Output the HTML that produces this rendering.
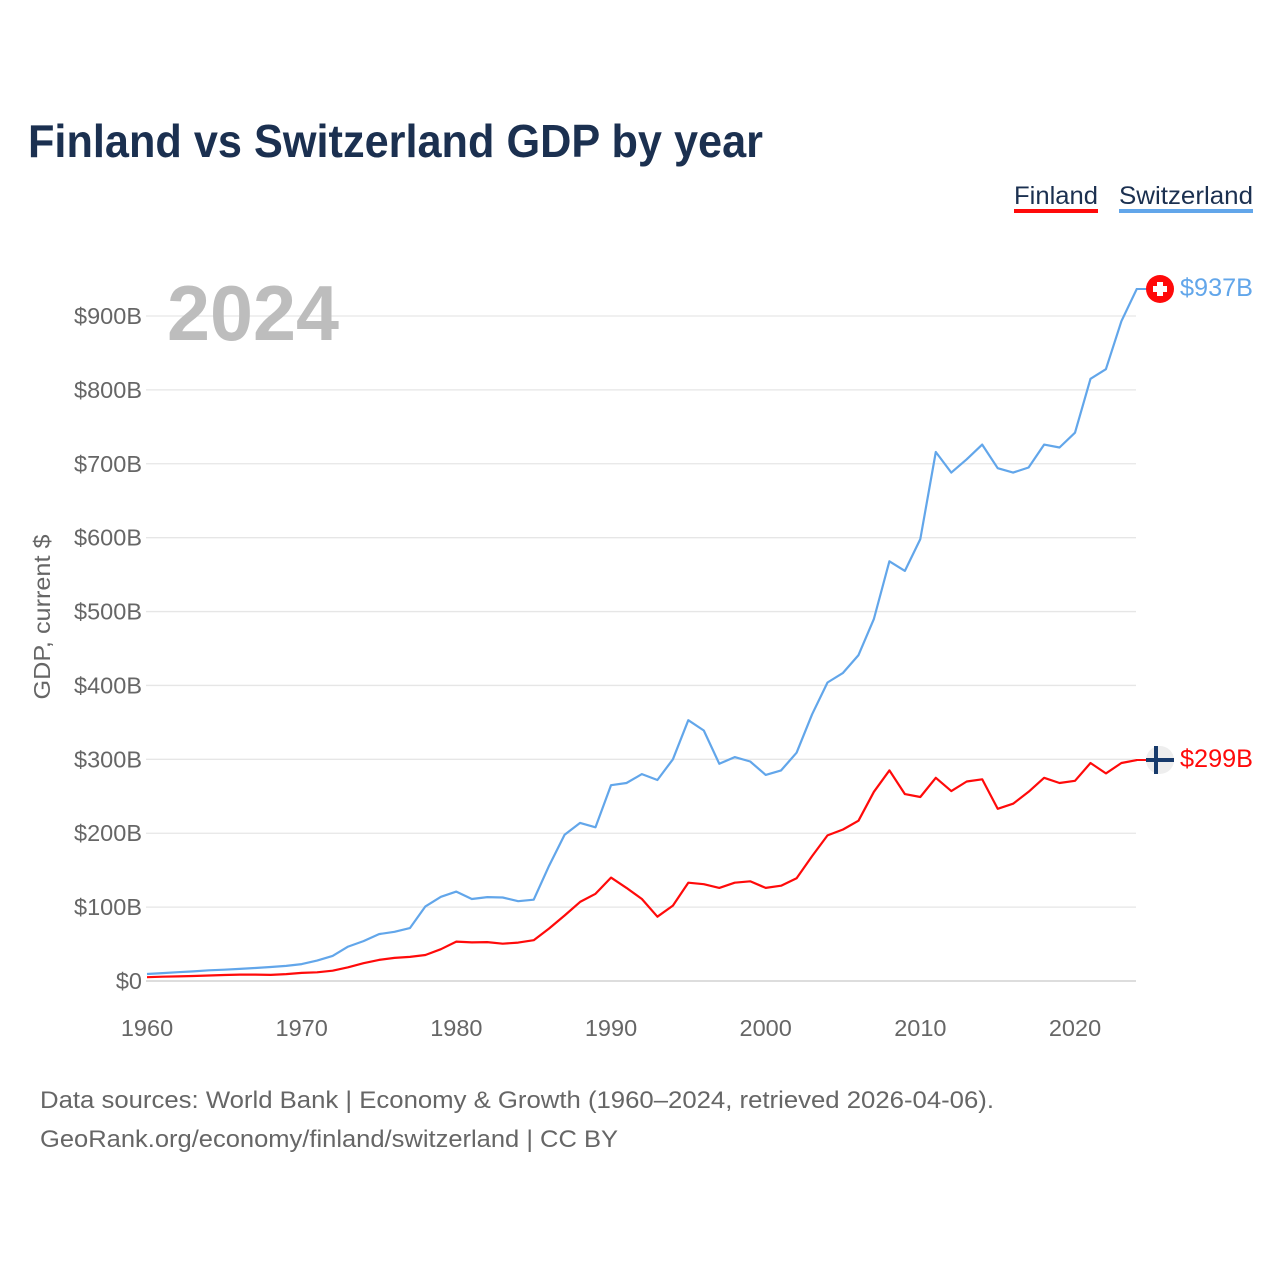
<!DOCTYPE html>
<html><head><meta charset="utf-8"><style>
html,body{margin:0;padding:0;background:#fff;}
svg{display:block;font-family:"Liberation Sans",sans-serif;}
</style></head><body>
<svg id="chart" width="1280" height="1280" viewBox="0 0 1280 1280" xmlns="http://www.w3.org/2000/svg">
<text x="28" y="157" font-size="46" font-weight="bold" fill="#1b3050" textLength="735" lengthAdjust="spacingAndGlyphs">Finland vs Switzerland GDP by year</text>
<g>
<g>
<text x="1014" y="204" font-size="25" fill="#1b3050" textLength="84" lengthAdjust="spacingAndGlyphs">Finland</text>
<rect x="1014" y="209" width="84" height="4" fill="#ff0a0a"/></g>
<g>
<text x="1119" y="204" font-size="25" fill="#1b3050" textLength="134" lengthAdjust="spacingAndGlyphs">Switzerland</text>
<rect x="1119" y="209" width="134" height="4" fill="#62a6ea"/></g>
</g>
<g id="grid"></g>
<text x="167" y="340" font-size="78" font-weight="bold" fill="#bdbdbd" textLength="172" lengthAdjust="spacingAndGlyphs">2024</text>
<text transform="translate(50,617) rotate(-90)" text-anchor="middle" font-size="23" fill="#666" textLength="165" lengthAdjust="spacingAndGlyphs">GDP, current $</text>
<g id="xticks"></g>
<g id="series"></g>
<line x1="1136" y1="289" x2="1148" y2="289" stroke="#62a6ea" stroke-width="2"/>
<line x1="1136" y1="760" x2="1148" y2="760" stroke="#ff0a0a" stroke-width="2"/>
<g>
<circle cx="1160" cy="289" r="14" fill="#ff0a0a"/>
<rect x="1153" y="286" width="14" height="6" fill="#fff"/><rect x="1157" y="282" width="6" height="14" fill="#fff"/>
</g>
<g>
<circle cx="1160" cy="760" r="14" fill="#eeeeee"/>
<rect x="1146" y="758" width="28" height="4" fill="#173a6b"/><rect x="1154" y="746" width="4" height="28" fill="#173a6b"/>
</g>
<text x="1180" y="296" font-size="25" fill="#62a6ea" textLength="73" lengthAdjust="spacingAndGlyphs">$937B</text>
<text x="1180" y="767" font-size="25" fill="#ff0a0a" textLength="73" lengthAdjust="spacingAndGlyphs">$299B</text>
<text x="40" y="1108" font-size="24" fill="#666" textLength="954" lengthAdjust="spacingAndGlyphs">Data sources: World Bank | Economy &amp; Growth (1960–2024, retrieved 2026-04-06).</text>
<text x="40" y="1147" font-size="24" fill="#666" textLength="578" lengthAdjust="spacingAndGlyphs">GeoRank.org/economy/finland/switzerland | CC BY</text>
</svg>
<script>
const years = [];
for (let y = 1960; y <= 2024; y++) years.push(y);
const switzerland = [9.5,10.7,11.9,13,14.5,15.3,16.4,17.6,18.9,20.5,22.9,27.6,34,46.5,54,63.5,66.6,71.6,101,114,121,111,113.5,113,108,110,156,198,214,208,265,268,280,272,300,353,339,294,303,297,279,285,309,361,404,417,441,490,568,555,598,716,688,706,726,694,688,695,726,722,742,815,828,893,937];
const finland = [5.2,5.8,6.2,6.7,7.4,8.1,8.7,8.6,8.2,9.4,10.9,11.8,13.9,18.6,24.1,28.6,31.3,32.6,35.2,43.1,53.3,52.3,52.7,50.5,52,55.2,71,88.7,107,118,140,126,111,87,102,133,131,126,133,135,126,129,139,169,197,205,217,256,285,253,249,275,257,270,273,233,240,256,275,268,271,295,281,295,299];
const yTicks = [0,100,200,300,400,500,600,700,800,900];
const yTickLabels = ["$0","$100B","$200B","$300B","$400B","$500B","$600B","$700B","$800B","$900B"];
const xTicks = [1960,1970,1980,1990,2000,2010,2020];

const NS = "http://www.w3.org/2000/svg";
const X = yr => 147 + (yr - 1960) * (1075 - 147) / 60;
const Y = v => 981 - v * (981 - 316) / 900;

const grid = document.getElementById('grid');
yTicks.forEach((t, i) => {
  const l = document.createElementNS(NS, 'line');
  l.setAttribute('x1', 146); l.setAttribute('x2', 1136);
  l.setAttribute('y1', Y(t)); l.setAttribute('y2', Y(t));
  l.setAttribute('stroke', t === 0 ? '#dddddd' : '#e6e6e6'); l.setAttribute('stroke-width', t === 0 ? 2 : 1.3);
  
  
  grid.appendChild(l);
  const tx = document.createElementNS(NS, 'text');
  tx.setAttribute('x', 142); tx.setAttribute('y', Y(t) + 8);
  tx.setAttribute('text-anchor', 'end'); tx.setAttribute('font-size', 23.5); tx.setAttribute('fill', '#666');
  tx.textContent = yTickLabels[i];
  
  
  grid.appendChild(tx);
});
const xt = document.getElementById('xticks');
xTicks.forEach(t => {
  const tx = document.createElementNS(NS, 'text');
  tx.setAttribute('x', X(t)); tx.setAttribute('y', 1036);
  tx.setAttribute('text-anchor', 'middle'); tx.setAttribute('font-size', 23.5); tx.setAttribute('fill', '#666');
  tx.textContent = t;
  
  
  xt.appendChild(tx);
});
const sg = document.getElementById('series');
function line(vals, color, name) {
  const p = document.createElementNS(NS, 'polyline');
  p.setAttribute('points', vals.map((v, i) => X(years[i]).toFixed(1) + ',' + Y(v).toFixed(1)).join(' '));
  p.setAttribute('fill', 'none'); p.setAttribute('stroke', color); p.setAttribute('stroke-width', 2.2);
  p.setAttribute('stroke-linejoin', 'round');
  
  
  sg.appendChild(p);
}
line(switzerland, '#62a6ea', 'switzerland-line');
line(finland, '#ff0a0a', 'finland-line');
</script>
</body></html>
